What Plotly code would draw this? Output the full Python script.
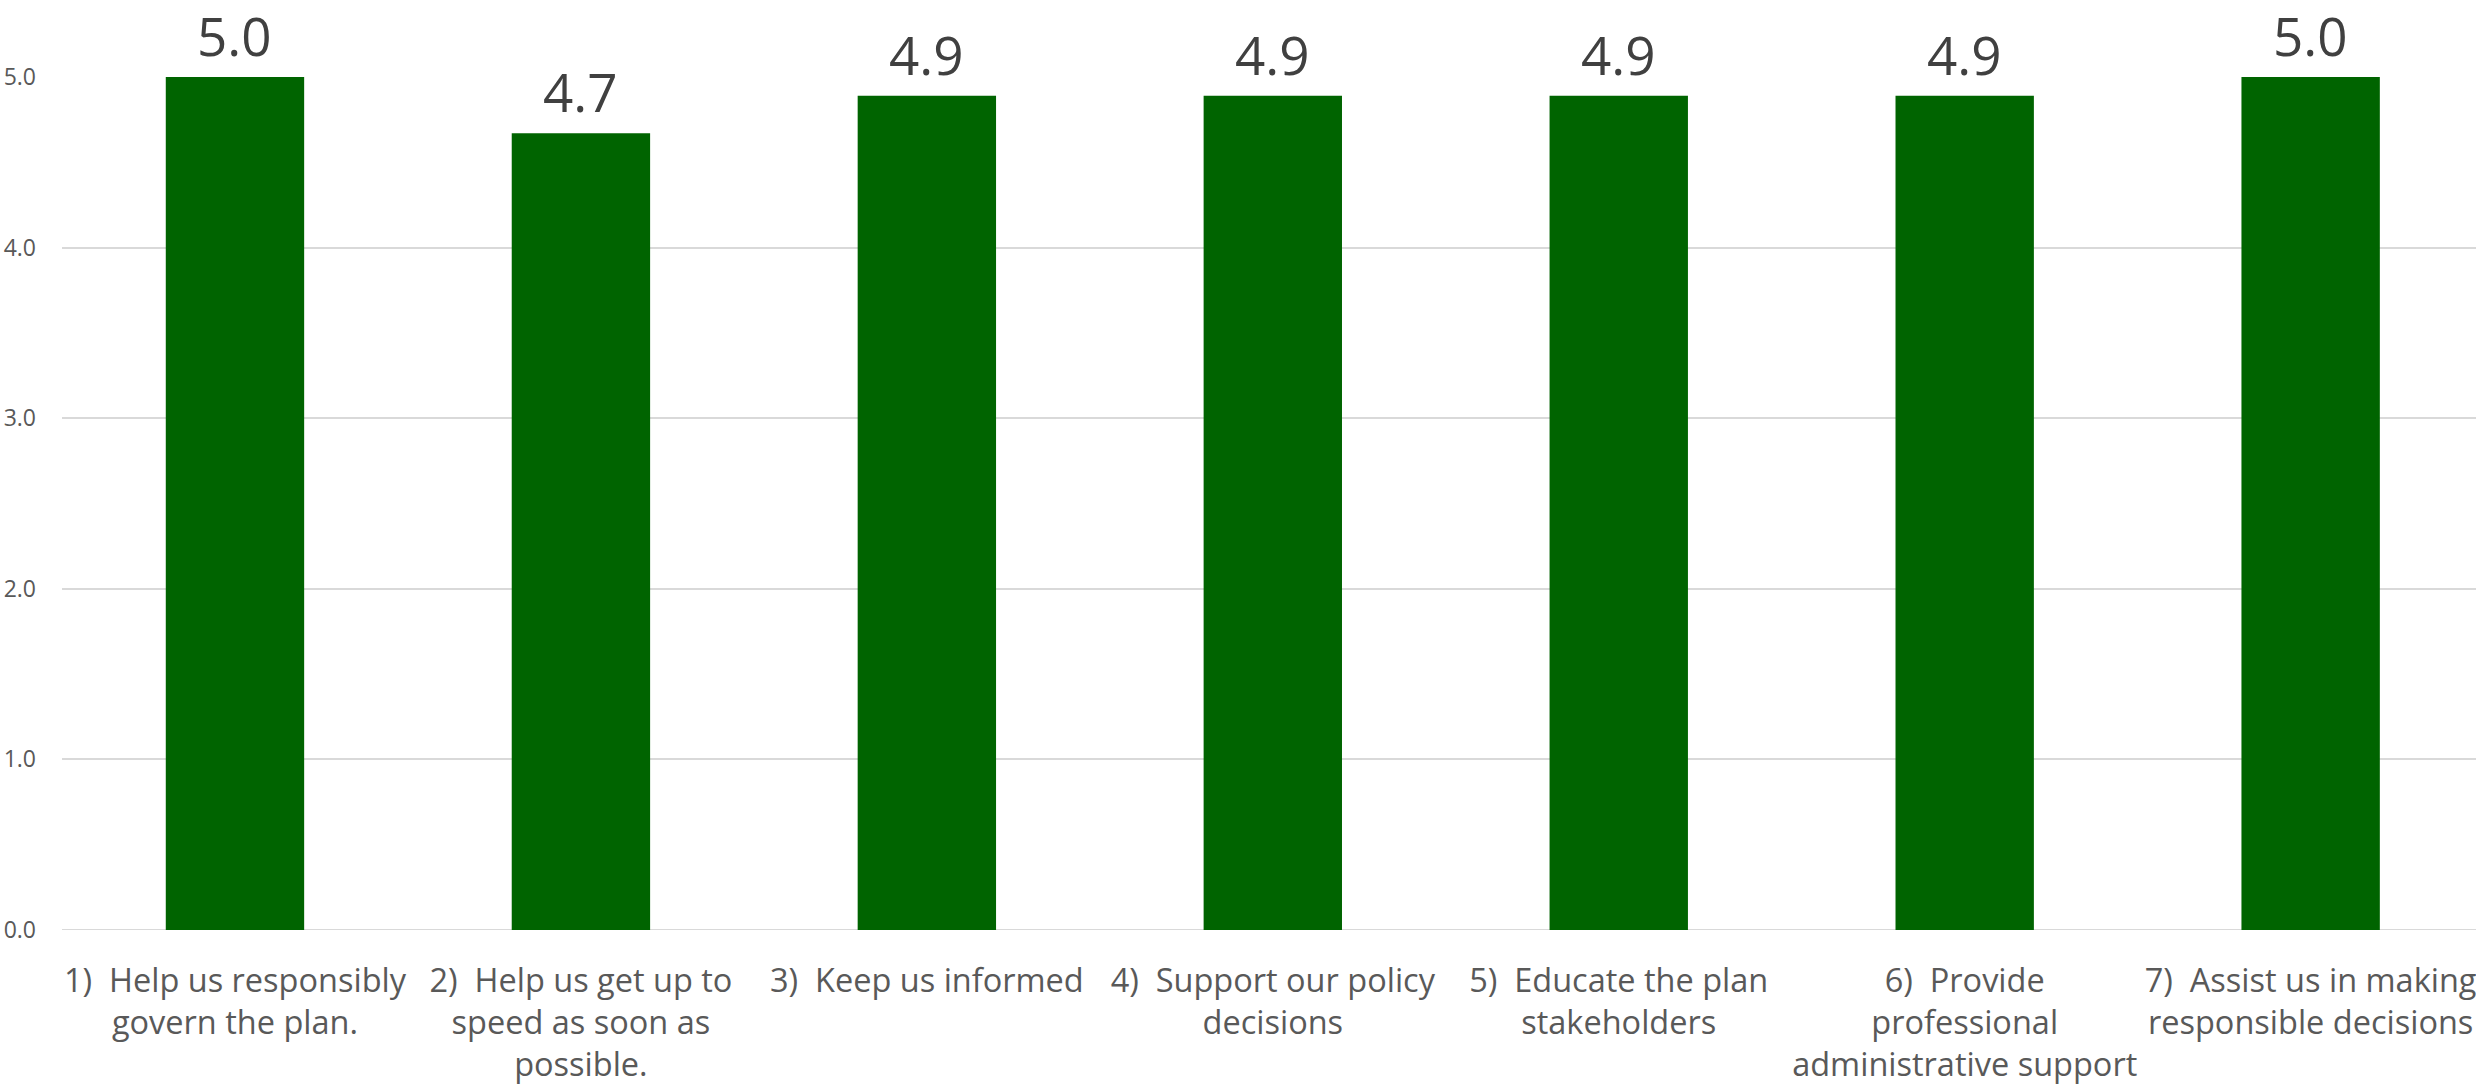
import plotly.graph_objects as go

categories = [
    "1)\u00a0 Help us responsibly<br>govern the plan.",
    "2)\u00a0 Help us get up to<br>speed as soon as<br>possible.",
    "3)\u00a0 Keep us informed",
    "4)\u00a0 Support our policy<br>decisions",
    "5)\u00a0 Educate the plan<br>stakeholders",
    "6)\u00a0 Provide<br>professional<br>administrative support",
    "7)\u00a0 Assist us in making<br>responsible decisions",
]
values = [5.0, 4.67, 4.89, 4.89, 4.89, 4.89, 5.0]
y_ticks = [0, 1, 2, 3, 4, 5]
y_tick_labels = ["0.0", "1.0", "2.0", "3.0", "4.0", "5.0"]

fig = go.Figure()
fig.add_trace(go.Bar(
    x=list(range(len(categories))),
    y=values,
    width=0.4,
    marker=dict(color="#006400", line=dict(width=0)),
    hoverinfo="skip",
))

for i, v in enumerate(values):
    fig.add_annotation(
        x=i, y=v, text=f"{v:.1f}", showarrow=False,
        yanchor="bottom", xanchor="center", yshift=3,
        font=dict(family="Open Sans", size=53, color="#404040"),
    )

fig.update_layout(
    width=2476, height=1091,
    margin=dict(l=62, r=0, t=77, b=161),
    paper_bgcolor="white", plot_bgcolor="white",
    showlegend=False,
    xaxis=dict(
        range=[-0.5, 6.478],
        tickmode="array",
        tickvals=list(range(len(categories))),
        ticktext=categories,
        tickangle=0,
        showgrid=False, zeroline=False, showline=False,
        ticks="", ticklabelstandoff=28,
        ticklabeloverflow="allow",
        tickfont=dict(family="Open Sans", size=32.5, color="#595959"),
    ),
    yaxis=dict(
        range=[0, 5],
        tickmode="array",
        tickvals=y_ticks,
        ticktext=y_tick_labels,
        showgrid=True, gridcolor="#d9d9d9", gridwidth=2,
        zeroline=False, showline=False,
        ticks="", ticklabelstandoff=25,
        tickfont=dict(family="Open Sans", size=23, color="#595959"),
    ),
)
fig.add_hline(y=0, line=dict(color="#d9d9d9", width=2), layer="below")

fig.write_html("out.html")
